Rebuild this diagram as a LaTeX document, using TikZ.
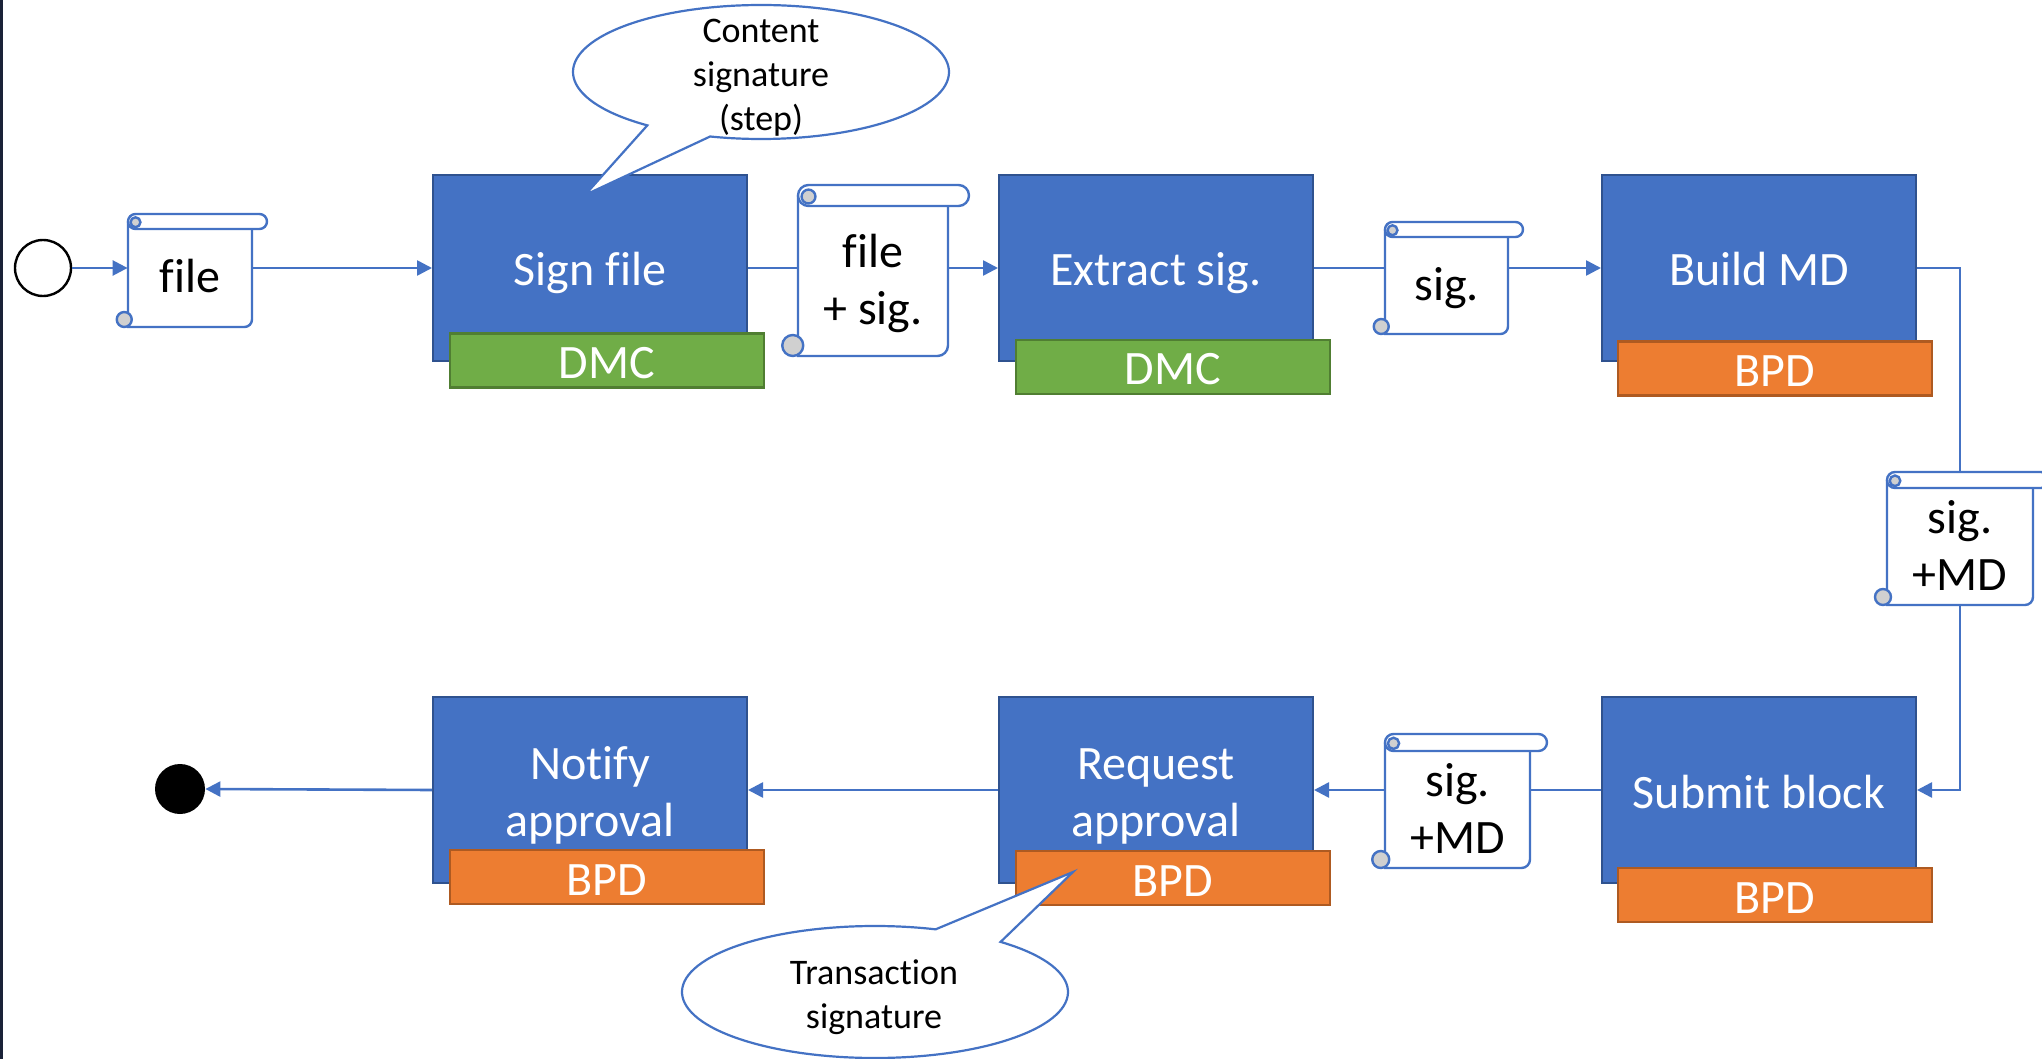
\documentclass[tikz,border=0pt]{standalone}
\usepackage{fontspec}
\setmainfont{Carlito}[Ligatures=CommonOff]
\usetikzlibrary{arrows.meta,calc}
\definecolor{mblue}{HTML}{4472C4}
\definecolor{dblue}{HTML}{2F528F}
\definecolor{mgreen}{HTML}{70AD47}
\definecolor{dgreen}{HTML}{507E32}
\definecolor{morange}{HTML}{ED7D31}
\definecolor{dorange}{HTML}{AE5A21}
\definecolor{curlgray}{HTML}{D0D0D0}
\definecolor{edgecol}{HTML}{1A2238}
\newcommand\bigtext{\fontsize{24pt}{28.5pt}\selectfont}
\newcommand\smalltext{\fontsize{18pt}{22pt}\selectfont}
\newcommand\ts{\rule[-6pt]{0pt}{30pt}}
\newcommand\tss{\rule[-6pt]{0pt}{27pt}}
\newcommand\tgs{\rule[-4.5pt]{0pt}{27pt}}
\tikzset{
 proc/.style={rectangle, fill=mblue, draw=dblue, line width=1pt, minimum width=157pt, minimum height=93pt, inner sep=0pt, text=white, align=center, font=\bigtext},
 tagdmc/.style={rectangle, fill=mgreen, draw=dgreen, line width=1.2pt, minimum width=157pt, minimum height=27pt, inner sep=0pt, text=white, font=\bigtext},
 tagbpd/.style={rectangle, fill=morange, draw=dorange, line width=1.2pt, minimum width=157pt, minimum height=27pt, inner sep=0pt, text=white, font=\bigtext},
 sc/.style={draw=mblue, line width=1.2pt},
 stext/.style={inner sep=0pt, align=center, font=\bigtext, text=black},
 conn/.style={draw=mblue, line width=1.3pt},
 arr/.style={conn, -{Triangle[length=7.5pt,width=7.5pt]}},
 callout/.style={draw=mblue, line width=1.1pt, fill=white},
 ctext/.style={align=center, font=\smalltext, inner sep=0pt, text=black},
}
% #1 name, #2 L, #3 T, #4 R, #5 B, #6 bar height, #7 text
\newcommand\scrollbox[7]{%
  \pgfmathsetmacro\scW{(#4-#2)/2}%
  \pgfmathsetmacro\scH{(#5-#3-#6)/2}%
  \pgfmathsetmacro\scR{#6/4}%
  \fill[white] (#2,#3+#6/2) rectangle (#4,#5);
  \draw[sc] (#2,#3+#6/2) -- (#2,#5) -- (#4-#6/2,#5) arc[start angle=90, end angle=0, radius=#6/2] -- (#4,#3+#6);
  \draw[sc, fill=white, rounded corners=\scR pt] (#2,#3) rectangle (#4+#6,#3+#6);
  \draw[sc, fill=curlgray] (#2+#6/2,#3+#6*0.55) circle[radius=#6*0.33];
  \draw[sc, fill=curlgray] (#2-#6/4,#5-#6/2) circle[radius=#6/2];
  \node[stext, minimum width=\scW pt, minimum height=\scH pt] (#1) at ({(#2+#4)/2},{(#3+#6+#5)/2}) {#7};
  \coordinate (#1-top) at ({(#2+#4)/2},#3);
}
\begin{document}
\begin{tikzpicture}[x=0.5pt,y=-0.5pt]
\useasboundingbox (0,0) rectangle (2042,1059);
\clip (0,0) rectangle (2042,1059);
\fill[white] (0,0) rectangle (2042,1059);
\fill[edgecol] (0,0) rectangle (3,1059);

% process boxes
\node[proc] (sign) at (590,268) {\ts Sign file};
\node[proc] (extract) at (1156,268) {\ts Extract sig.};
\node[proc] (build) at (1759,268) {\ts Build MD};
\node[proc] (notify) at (590,790) {\ts Notify\\\tss approval};
\node[proc] (request) at (1156,790) {\ts Request\\\tss approval};
\node[proc] (submit) at (1759,790) {\ts Submit block};

% tags
\node[tagdmc] (signtag) at (607,360.5) {\tgs DMC};
\node[tagdmc] (extracttag) at (1173,367) {\tgs DMC};
\node[tagbpd] (buildtag) at (1775,368.5) {\tgs BPD};
\node[tagbpd] (notifytag) at (607,877) {\tgs BPD};
\node[tagbpd] (requesttag) at (1173,878) {\tgs BPD};
\node[tagbpd] (submittag) at (1775,895) {\tgs BPD};

% start / end
\node[circle, draw=black, line width=1.2pt, fill=white, minimum size=28pt, inner sep=0pt] (start) at (43,268) {};
\node[circle, fill=black, minimum size=25pt, inner sep=0pt] (endc) at (180,789) {};

% scrolls
\scrollbox{s1}{128}{214}{252}{327}{15}{\tss file}
\scrollbox{s2}{798}{185}{948}{356}{21}{\tss file\\\tss + sig.}
\scrollbox{s3}{1385}{222}{1508}{334}{15}{\tss sig.}
\scrollbox{s4}{1887}{472}{2033}{605}{16}{\tss sig.\\\tss +MD}
\scrollbox{s5}{1385}{734}{1530}{868}{17}{\tss sig.\\\tss +MD}

% connectors
\draw[arr] (start.east) -- (s1.west |- start.east);
\draw[arr] (s1.east |- sign.west) -- (sign.west);
\draw[conn] (sign.east) -- (s2.west |- sign.east);
\draw[arr] (s2.east |- extract.west) -- (extract.west);
\draw[conn] (extract.east) -- (s3.west |- extract.east);
\draw[arr] (s3.east |- build.west) -- (build.west);
\draw[conn] (build.east) -| (s4-top);
\draw[arr] (s4.south) |- (submit.east);
\draw[conn] (submit.west) -- (s5.east |- submit.west);
\draw[arr] (s5.west |- request.east) -- (request.east);
\draw[arr] (request.west) -- (notify.east);
\draw[arr] (notify.west) -- (endc.east);

% callouts
\draw[callout] ([shift={(761,72)}]105.7:188 and 67) -- (585,195) -- ([shift={(761,72)}]127.2:188 and 67) arc[start angle=127.2, end angle=465.7, x radius=188, y radius=67] -- cycle;
\node[ctext] (c1text) at (761,78) {Content\\signature\\(step)};
\draw[callout] ([shift={(875,992)}]-71.7:193 and 66) -- (1073,872) -- ([shift={(875,992)}]-49.4:193 and 66) arc[start angle=-49.4, end angle=288.3, x radius=193, y radius=66] -- cycle;
\node[ctext] (c2text) at (874,997) {Transaction\\signature};
\end{tikzpicture}
\end{document}
